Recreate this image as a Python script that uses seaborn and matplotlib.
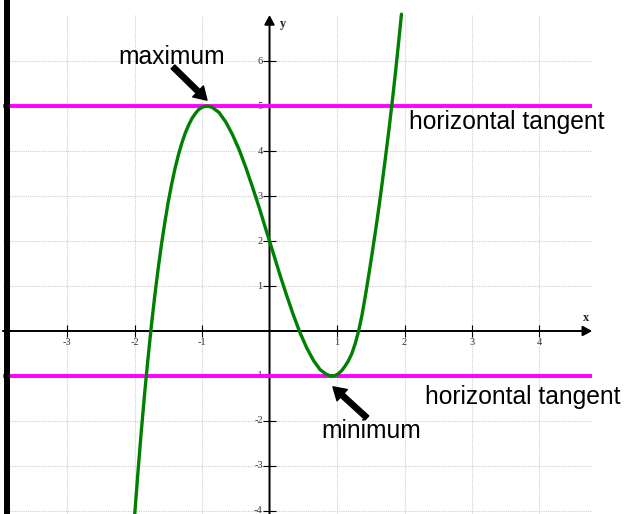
import matplotlib
matplotlib.use("Agg")
import matplotlib.pyplot as plt
import seaborn as sns
import pandas as pd

# valores (pontos estimados ao longo da curva)
curve_x = [-2.00, -1.95, -1.90, -1.85, -1.80, -1.75, -1.70, -1.65, -1.60, -1.55, -1.50,
           -1.45, -1.40, -1.35, -1.30, -1.25, -1.20, -1.15, -1.10, -1.05, -1.00, -0.96,
           -0.92, -0.85, -0.75, -0.65, -0.55, -0.45, -0.35, -0.25, -0.15, -0.05, 0.05,
           0.15, 0.25, 0.35, 0.45, 0.55, 0.65, 0.75, 0.85, 0.92, 0.97, 1.02, 1.07, 1.12,
           1.17, 1.22, 1.27, 1.32, 1.37, 1.42, 1.47, 1.52, 1.57, 1.62, 1.67, 1.72, 1.77,
           1.82, 1.87, 1.92, 1.955]
curve_y = [-4.14, -3.16, -2.24, -1.39, -0.61, 0.12, 0.78, 1.38, 1.93, 2.42, 2.87,
           3.26, 3.61, 3.91, 4.17, 4.39, 4.57, 4.72, 4.83, 4.92, 4.97, 4.99,
           5.00, 4.97, 4.86, 4.65, 4.37, 4.03, 3.63, 3.19, 2.73, 2.24, 1.76,
           1.27, 0.81, 0.37, -0.03, -0.37, -0.65, -0.86, -0.97, -1.00, -0.99, -0.95, -0.88, -0.78,
           -0.66, -0.50, -0.28, 0.00, 0.35, 0.78, 1.24, 1.72, 2.22, 2.74, 3.30, 3.88, 4.48,
           5.12, 5.80, 6.52, 7.04]
tangent_y = [5, -1]
x_ticks = [-3, -2, -1, 1, 2, 3, 4]
y_ticks = [-4, -3, -2, -1, 1, 2, 3, 4, 5, 6]
x_grid = [-3, -2, -1, 0, 1, 2, 3, 4]
y_grid = [-4, -3, -2, -1, 0, 1, 2, 3, 4, 5, 6]
max_pt = (-0.92, 5)
min_pt = (0.92, -1)

df = pd.DataFrame({"x": curve_x, "y": curve_y})

sns.set_style("white")
plt.rcParams["font.family"] = ["Liberation Sans", "DejaVu Sans"]

fig = plt.figure(figsize=(6.27, 5.14), dpi=100)
ax = fig.add_axes([0, 0, 1, 1])

x_left, x_right = -3.95, 4.78
y_bot, y_top = -4.0667, 7.02

# grade pontilhada
ax.vlines(x_grid, y_bot, y_top, colors="#cfcfcf", lw=0.8, linestyles=(0, (1, 1)), zorder=1)
ax.hlines(y_grid, x_left, x_right, colors="#cfcfcf", lw=0.8, linestyles=(0, (1, 1)), zorder=1)

# barra preta da esquerda
ax.axvline(-3.896, color="black", lw=4.3, zorder=5)

# eixos com setas
seta_eixo = dict(arrowstyle="-|>,head_length=0.55,head_width=0.3",
                 lw=1.4, color="black", mutation_scale=10, shrinkA=0, shrinkB=0)
ax.annotate("", xy=(x_right, 0), xytext=(x_left, 0), arrowprops=seta_eixo, zorder=3)
ax.annotate("", xy=(0, y_top), xytext=(0, y_bot - 0.2), arrowprops=seta_eixo, zorder=3)
ax.vlines(x_ticks, -0.133, 0.133, colors="black", lw=0.8, zorder=3)
ax.hlines(y_ticks, -0.096, 0.096, colors="black", lw=0.8, zorder=3)

tick_font = dict(family=["Liberation Serif", "DejaVu Serif"], fontsize=7.5, color="#333344")
for t in x_ticks:
    ax.text(t, -0.256, str(t), ha="center", va="center", **tick_font)
for t in y_ticks:
    ax.text(-0.1, t, str(t), ha="right", va="center", **tick_font)
ax.text(4.69, 0.29, "x", ha="center", va="center", fontsize=9, fontweight="bold",
        family=["Liberation Serif", "DejaVu Serif"], color="#222233")
ax.text(0.2, 6.82, "y", ha="center", va="center", fontsize=9, fontweight="bold",
        family=["Liberation Serif", "DejaVu Serif"], color="#222233")

# tangentes horizontais
for ty in tangent_y:
    ax.hlines(ty, x_left, x_right, colors="#ff00ff", lw=2.8, zorder=4)

# curva
sns.lineplot(data=df, x="x", y="y", ax=ax, sort=False, estimator=None,
             color="#008000", lw=2.4, zorder=6)
ax.set_xlim(-3.9926, 5.2963)
ax.set_ylim(-4.0667, 7.3556)
ax.axis("off")

label_font = dict(fontsize=17.7, color="black")
ax.text(-1.444, 6.09, "maximum", ha="center", va="center", **label_font)
ax.text(1.504, -2.22, "minimum", ha="center", va="center", **label_font)
ax.text(2.067, 4.644, "horizontal tangent", ha="left", va="center", **label_font)
ax.text(2.30, -1.467, "horizontal tangent", ha="left", va="center", **label_font)

arrow = dict(facecolor="black", edgecolor="black", width=3.8, headwidth=11,
             headlength=9, shrink=0)
ax.annotate("", xy=(max_pt[0] - 0.006, max_pt[1] + 0.13), xytext=(-1.43, 5.87),
            arrowprops=arrow, zorder=7)
ax.annotate("", xy=(min_pt[0] + 0.02, min_pt[1] - 0.24), xytext=(1.444, -1.93),
            arrowprops=arrow, zorder=7)

fig.savefig("out.png", dpi=100)
